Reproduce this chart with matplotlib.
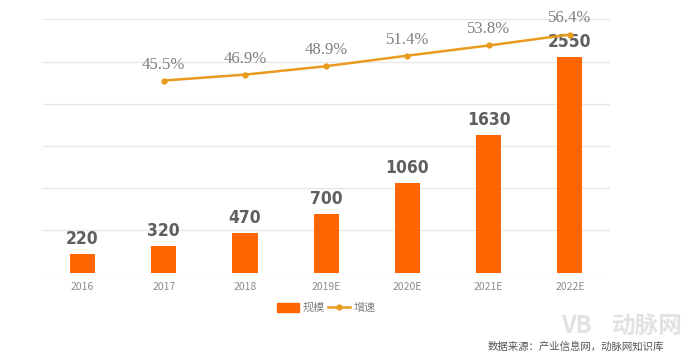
import numpy as np
import matplotlib.pyplot as plt
from matplotlib.lines import Line2D
from matplotlib.patches import Patch

plt.rcParams['font.family'] = ['Noto Sans CJK SC', 'DejaVu Sans']

# data
years = ['2016', '2017', '2018', '2019E', '2020E', '2021E', '2022E']
scale = [220, 320, 470, 700, 1060, 1630, 2550]
growth_years = ['2017', '2018', '2019E', '2020E', '2021E', '2022E']
growth = [45.5, 46.9, 48.9, 51.4, 53.8, 56.4]

bar_color = '#FF6600'
line_color = '#E89B1E'

fig = plt.figure(figsize=(7, 3.59), dpi=100)
ax = fig.add_axes([0.061, 0.2404, 0.81, 0.7058])

x = np.arange(len(years))
ax.bar(x, scale, width=0.31, color=bar_color, zorder=3)
ax.set_ylim(0, 3000)
ax.set_xlim(-0.49, len(years) - 0.51)
ax.set_yticks(np.arange(0, 3001, 500))
ax.yaxis.grid(True, color='#E6E6E6', lw=1, zorder=0)
ax.set_xticks(x)
ax.set_xticklabels(years)
for s in ax.spines.values():
    s.set_visible(False)

for xi, v in zip(x, scale):
    ax.text(xi, v + 70, str(v), ha='center', va='bottom', fontsize=12.5,
            fontweight='bold', fontstretch='condensed', color='#5F5F5F',
            family=['DejaVu Sans'], zorder=4)

ax2 = ax.twinx()
ax2.set_ylim(0, 60)
ax2.axis('off')
gx = [years.index(y) for y in growth_years]
ax2.plot(gx, growth, color=line_color, lw=1.8, marker='o', markersize=3.5, zorder=5)
for xi, g in zip(gx, growth):
    ax2.text(xi, g + 1.9, f'{g:.1f}%', ha='center', va='bottom', fontsize=12,
             color='#7F7F7F', family=['Liberation Serif', 'DejaVu Serif'])

# twinx turns the left ticks back on
ax.tick_params(axis='y', left=False, right=False, labelleft=False)
ax.tick_params(axis='x', bottom=False, labelsize=7.5, labelcolor='#8C8C8C', pad=3)

handles = [Patch(color=bar_color),
           Line2D([], [], color=line_color, lw=1.8, marker='o', markersize=3.5)]
fig.legend(handles, ['规模', '增速'], loc='center', bbox_to_anchor=(0.466, 0.142),
           ncol=2, frameon=False, fontsize=8, labelcolor='#7F7F7F',
           handlelength=2.0, handleheight=0.8, handletextpad=0.3, columnspacing=0.3)

# watermark
fig.text(0.925, 0.092, '动脉网', ha='center', va='center', fontsize=17,
         color='#E2E2E2', fontweight='bold')
fig.text(0.823, 0.092, 'VB', ha='center', va='center', fontsize=17,
         color='#E2E2E2', fontweight='bold')

fig.text(0.697, 0.034, '数据来源：产业信息网，动脉网知识库', ha='left', va='center',
         fontsize=7.5, color='#555555')

fig.savefig('out.png', dpi=100)
